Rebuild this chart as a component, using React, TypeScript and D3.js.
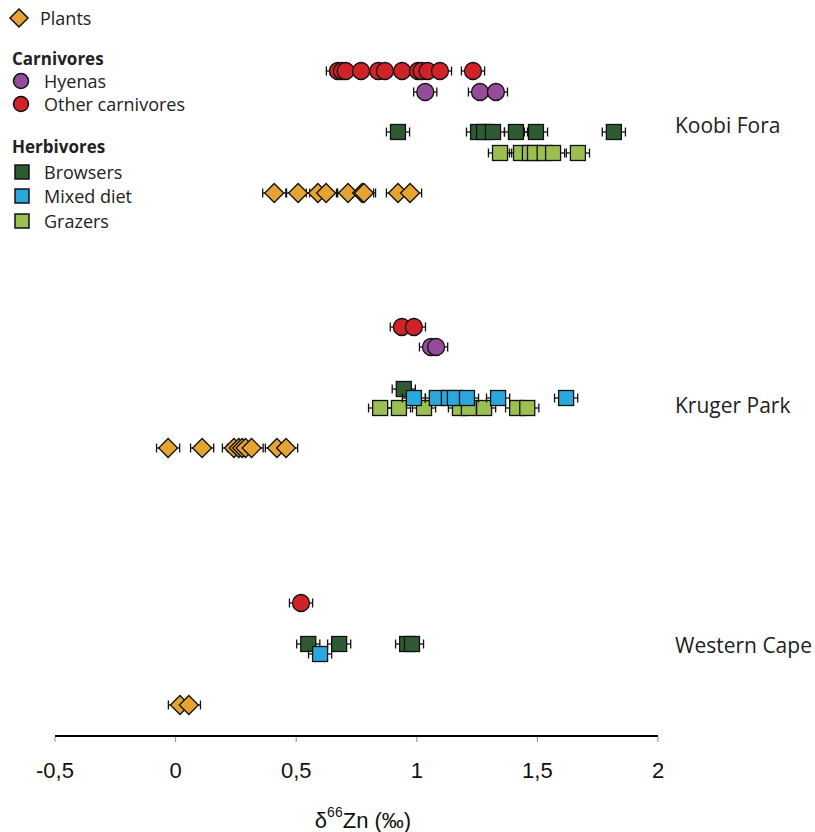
import React from 'react';
import * as d3 from 'd3';

// delta66Zn values read per site and group
const koobiOther = [0.673, 0.69, 0.705, 0.769, 0.84, 0.868, 0.939, 1.005, 1.02, 1.045, 1.096, 1.233];
const koobiHyena = [1.035, 1.262, 1.328];
const koobiBrowsers = [0.922, 1.254, 1.279, 1.316, 1.411, 1.494, 1.817];
const koobiGrazers = [1.345, 1.432, 1.469, 1.49, 1.53, 1.565, 1.668];
const koobiPlants = [0.409, 0.508, 0.59, 0.624, 0.715, 0.773, 0.781, 0.922, 0.972];

const krugerOther = [0.938, 0.988];
const krugerHyena = [1.059, 1.08];
const krugerBrowsers = [0.946];
const krugerMixed = [0.988, 1.083, 1.133, 1.158, 1.208, 1.337, 1.619];
const krugerGrazers = [0.848, 0.926, 1.03, 1.179, 1.216, 1.279, 1.416, 1.458];
const krugerPlants = [-0.031, 0.11, 0.242, 0.262, 0.276, 0.29, 0.315, 0.42, 0.458];

const capeOther = [0.52];
const capeBrowsers = [0.55, 0.678, 0.96, 0.98];
const capeMixed = [0.599];
const capePlants = [0.018, 0.055];

const errHalf = 0.048;
const ticks = [-0.5, 0, 0.5, 1, 1.5, 2];
const sites = ['Koobi Fora', 'Kruger Park', 'Western Cape'];

const colors = {
  plants: '#E5A332',
  hyena: '#974C9B',
  other: '#CF2229',
  browsers: '#2F5B34',
  mixed: '#2AA8DD',
  grazers: '#9CBF52'
};

const font = "'Open Sans', 'DejaVu Sans', sans-serif";

function Marker({ kind, x, y }) {
  if (kind === 'hyena' || kind === 'other') {
    return <circle cx={x} cy={y} r={8.5} fill={colors[kind]} stroke="#111" strokeWidth={1.3} />;
  }
  if (kind === 'plants') {
    const s = 9.5;
    return (
      <path
        d={`M${x},${y - s}L${x + s},${y}L${x},${y + s}L${x - s},${y}Z`}
        fill={colors.plants}
        stroke="#111"
        strokeWidth={1.3}
      />
    );
  }
  return <rect x={x - 7.5} y={y - 7.5} width={15} height={15} fill={colors[kind]} stroke="#111" strokeWidth={1.3} />;
}

function App() {
  const width = 815;
  const height = 832;
  const x = d3.scaleLinear().domain([-0.5, 2]).range([55, 658]);

  // rows: each series sits at a fixed vertical position
  const rows = [
    { values: koobiOther, kind: 'other', y: 71 },
    { values: koobiHyena, kind: 'hyena', y: 92 },
    { values: koobiBrowsers, kind: 'browsers', y: 132 },
    { values: koobiGrazers, kind: 'grazers', y: 153 },
    { values: koobiPlants, kind: 'plants', y: 193 },
    { values: krugerOther, kind: 'other', y: 327 },
    { values: krugerHyena, kind: 'hyena', y: 347 },
    { values: krugerBrowsers, kind: 'browsers', y: 389 },
    { values: krugerGrazers, kind: 'grazers', y: 408 },
    { values: krugerMixed, kind: 'mixed', y: 398 },
    { values: krugerPlants, kind: 'plants', y: 448 },
    { values: capeOther, kind: 'other', y: 603 },
    { values: capeBrowsers, kind: 'browsers', y: 644 },
    { values: capeMixed, kind: 'mixed', y: 654 },
    { values: capePlants, kind: 'plants', y: 705 }
  ];
  const siteY = [125, 405, 645];

  const legend = [
    { kind: 'hyena', label: 'Hyenas', y: 81 },
    { kind: 'other', label: 'Other carnivores', y: 104 },
    { kind: 'browsers', label: 'Browsers', y: 172 },
    { kind: 'mixed', label: 'Mixed diet', y: 196 },
    { kind: 'grazers', label: 'Grazers', y: 221 }
  ];

  return (
    <svg width={width} height={height} style={{ position: 'absolute', left: 0, top: 0 }} fontFamily={font}>
      <rect width={width} height={height} fill="#fff" />

      {/* legend */}
      <g fill="#222" fontSize={18}>
        <path d="M19,9L28,18L19,27L10,18Z" fill={colors.plants} stroke="#111" strokeWidth={1.5} />
        <text x={40} y={18} dominantBaseline="central">Plants</text>
        <text x={12} y={58} fontSize={17} fontWeight="bold" dominantBaseline="central">Carnivores</text>
        <text x={12} y={146} fontSize={17} fontWeight="bold" dominantBaseline="central">Herbivores</text>
        {legend.map(d => (
          <g key={d.label}>
            {d.kind === 'hyena' || d.kind === 'other' ? (
              <circle cx={21} cy={d.y} r={7.5} fill={colors[d.kind]} stroke="#111" strokeWidth={1.5} />
            ) : (
              <rect x={15} y={d.y - 7} width={14} height={14} fill={colors[d.kind]} stroke="#111" strokeWidth={1.5} />
            )}
            <text x={44} y={d.y} dominantBaseline="central">{d.label}</text>
          </g>
        ))}
      </g>

      {/* data rows */}
      {rows.map((row, ri) => (
        <g key={ri}>
          {row.values.map((v, i) => (
            <g key={i} stroke="#111" strokeWidth={1.3}>
              <line x1={x(v - errHalf)} x2={x(v + errHalf)} y1={row.y} y2={row.y} />
              <line x1={x(v - errHalf)} x2={x(v - errHalf)} y1={row.y - 4.5} y2={row.y + 4.5} />
              <line x1={x(v + errHalf)} x2={x(v + errHalf)} y1={row.y - 4.5} y2={row.y + 4.5} />
            </g>
          ))}
          {row.values.map((v, i) => (
            <Marker key={i} kind={row.kind} x={x(v)} y={row.y} />
          ))}
        </g>
      ))}

      {/* site labels */}
      {sites.map((s, i) => (
        <text key={s} x={675} y={siteY[i]} fontSize={21} fill="#222" dominantBaseline="central">
          {s}
        </text>
      ))}

      {/* x axis */}
      <line x1={x(-0.5)} x2={x(2)} y1={736} y2={736} stroke="#000" strokeWidth={2} />
      {ticks.map(t => (
        <g key={t}>
          <line x1={x(t)} x2={x(t)} y1={737} y2={742} stroke="#A07AC0" strokeWidth={1} />
          <text x={x(t)} y={770} textAnchor="middle" fontSize={22} fill="#111" dominantBaseline="central"
            fontFamily="'Liberation Sans', Arial, sans-serif">
            {String(t).replace('.', ',')}
          </text>
        </g>
      ))}
      <text x={363} y={820} textAnchor="middle" fontSize={22} fill="#111" dominantBaseline="central"
        fontFamily="'Liberation Sans', Arial, sans-serif">
        δ<tspan fontSize={14} dy={-8}>66</tspan><tspan dy={8}>Zn (‰)</tspan>
      </text>
    </svg>
  );
}

export default App;
